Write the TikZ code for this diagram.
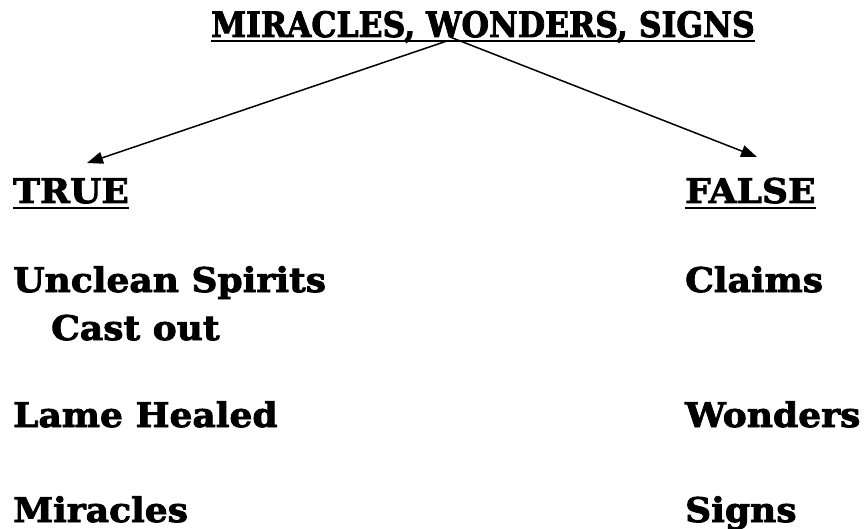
\documentclass[tikz,border=0pt]{standalone}
\usepackage{fontspec}
\setmainfont{DejaVu Serif}
\newfontfamily\heavy{DejaVu Serif Bold}[FakeBold=2.4, FakeStretch=1.06]
\newfontfamily\heavyT{DejaVu Serif Bold}[FakeBold=2.4, FakeStretch=0.9]
\usetikzlibrary{arrows.meta}
\tikzset{
  lbl/.style={anchor=base west, inner sep=0pt, font=\heavy\fontsize{34}{34}\selectfont},
  ttl/.style={anchor=base, inner sep=0pt, font=\heavyT\fontsize{35}{35}\selectfont},
  uline/.style={line width=2.6pt},
  conn/.style={line width=1.5pt, -{Triangle[length=16pt,width=12pt]}}
}
\begin{document}
\begin{tikzpicture}[x=1pt,y=-1pt]
\useasboundingbox (0,0) rectangle (866,529);
\node[ttl] (title) at (483,37) {MIRACLES, WONDERS, SIGNS};
\draw[uline] ([yshift=-4pt]title.base west) -- ([yshift=-4pt]title.base east);
\node[lbl] (true) at (13,203) {TRUE};
\draw[uline] ([yshift=-5pt]true.base west) -- ([yshift=-5pt]true.base east);
\node[lbl] (false) at (685,203) {FALSE};
\draw[uline] ([yshift=-5pt]false.base west) -- ([yshift=-5pt]false.base east);
\node[lbl] (unclean) at (13,292) {Unclean Spirits};
\node[lbl] (cast) at (51,340) {Cast out};
\node[lbl] (lame) at (13,427) {Lame Healed};
\node[lbl] (mir) at (13,522) {Miracles};
\node[lbl] (claims) at (685,292) {Claims};
\node[lbl] (wonders) at (685,427) {Wonders};
\node[lbl] (signs) at (685,522) {Signs};
\coordinate (s1) at (447,41);
\coordinate (s2) at (450,37);
\coordinate (e1) at (87,163);
\coordinate (e2) at (757,157);
\draw[conn] (s1) -- (e1);
\draw[conn] (s2) -- (e2);
\end{tikzpicture}
\end{document}
